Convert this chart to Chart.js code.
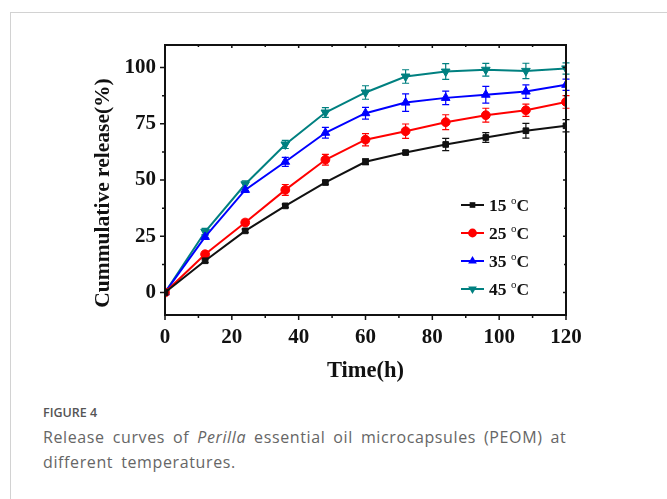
<!DOCTYPE html>
<html><head><meta charset="utf-8">
<script src="https://cdn.jsdelivr.net/npm/chart.js@4.4.1/dist/chart.umd.min.js"></script>
<style>
html,body{margin:0;padding:0;background:#fff;width:667px;height:499px;overflow:hidden;position:relative;}
#card{position:absolute;left:10px;top:12px;width:700px;height:520px;border-left:1.5px solid #d2d2d2;border-top:1.5px solid #d2d2d2;}
#wrap{position:absolute;left:0;top:0;width:667px;height:400px;}
.cap{position:absolute;left:43px;font-family:"Open Sans",sans-serif;color:#666;white-space:nowrap;}
</style></head><body>
<div id="card"></div>
<div id="wrap"><canvas id="c" width="667" height="400"></canvas></div>
<div class="cap" style="top:404px;font-size:12.5px;font-weight:600;color:#555;">FIGURE 4</div>
<div class="cap" style="top:425px;font-size:16px;line-height:25px;letter-spacing:0.62px;word-spacing:3.2px;">Release curves of <i>Perilla</i> essential oil microcapsules (PEOM) at<br>different temperatures.</div>
<script>
const timeH = [0, 12, 24, 36, 48, 60, 72, 84, 96, 108, 120];
const temps = [15, 25, 35, 45];
const rel15 = [0, 14.1, 27.4, 38.5, 48.9, 58.1, 62.2, 65.8, 68.9, 71.9, 74.1];
const rel25 = [0, 17.0, 31.1, 45.6, 59.0, 67.9, 71.7, 75.7, 78.8, 81.0, 84.7];
const rel35 = [0, 24.7, 45.6, 58.1, 71.0, 79.7, 84.4, 86.5, 87.9, 89.3, 92.3];
const rel45 = [0, 27.0, 48.1, 65.8, 80.0, 88.9, 96.0, 98.2, 99.0, 98.5, 99.6];
const err15 = [0, 0.8, 0.8, 0.8, 1.0, 1.3, 0.8, 2.7, 2.2, 3.3, 2.7];
const err25 = [0, 1.0, 1.2, 2.4, 2.4, 2.7, 3.2, 3.3, 3.1, 2.7, 2.8];
const err35 = [0, 1.0, 1.0, 2.0, 2.4, 2.6, 3.9, 3.0, 3.7, 3.0, 2.5];
const err45 = [0, 1.5, 1.5, 1.8, 2.2, 3.0, 3.0, 3.5, 2.8, 3.4, 2.5];
const xTicks = [0, 20, 40, 60, 80, 100, 120];
const yTicks = [0, 25, 50, 75, 100];
const xMinor = [10, 30, 50, 70, 90, 110];
const yMinor = [12.5, 37.5, 62.5, 87.5];
const yTitle = 'Cummulative release(%)';
const xTitle = 'Time(h)';

const colors = ['#111111', '#ff0000', '#0000ff', '#008080'];
const styles = ['rect', 'circle', 'triangle', 'triangle'];
const rots = [0, 0, 0, 180];
const radii = [4, 4.4, 5, 5];
const series = [rel15, rel25, rel35, rel45];
const errs = [err15, err25, err35, err45];

const FONT = '"Liberation Serif","Times New Roman",serif';

const datasets = series.map((s, k) => ({
  label: temps[k] + ' oC',
  data: s.map((v, i) => ({x: timeH[i], y: v})),
  errs: errs[k],
  borderColor: colors[k],
  backgroundColor: colors[k],
  pointStyle: styles[k],
  pointRotation: rots[k],
  pointRadius: radii[k],
  pointBorderWidth: 1,
  borderWidth: 2,
  tension: 0
}));

const errorBars = {
  id: 'errorBars',
  beforeDatasetsDraw(chart) {
    const {ctx, scales: {x, y}} = chart;
    ctx.save();
    chart.data.datasets.forEach(ds => {
      ctx.strokeStyle = ds.borderColor;
      ctx.lineWidth = 1.2;
      ds.data.forEach((p, i) => {
        const e = ds.errs[i];
        if (!e) return;
        const px = x.getPixelForValue(p.x);
        const t = y.getPixelForValue(p.y + e);
        const b = y.getPixelForValue(p.y - e);
        ctx.beginPath();
        ctx.moveTo(px, t); ctx.lineTo(px, b);
        ctx.moveTo(px - 3.5, t); ctx.lineTo(px + 3.5, t);
        ctx.moveTo(px - 3.5, b); ctx.lineTo(px + 3.5, b);
        ctx.stroke();
      });
    });
    ctx.restore();
  }
};

function drawMarker(ctx, style, rot, r, cx, cy) {
  ctx.beginPath();
  if (style === 'rect') {
    const h = r / Math.SQRT2;
    ctx.rect(cx - h, cy - h, 2 * h, 2 * h);
  } else if (style === 'circle') {
    ctx.arc(cx, cy, r, 0, Math.PI * 2);
  } else {
    const s = rot ? -1 : 1;
    ctx.moveTo(cx, cy - s * r);
    ctx.lineTo(cx + r * 0.87, cy + s * r * 0.5);
    ctx.lineTo(cx - r * 0.87, cy + s * r * 0.5);
    ctx.closePath();
  }
  ctx.fill();
}

const frame = {
  id: 'frame',
  afterDraw(chart) {
    const {ctx, chartArea: a, scales: {x, y}} = chart;
    ctx.save();
    ctx.strokeStyle = '#111';
    ctx.lineWidth = 2;
    ctx.strokeRect(a.left, a.top, a.right - a.left, a.bottom - a.top);
    ctx.lineWidth = 1.5;
    ctx.beginPath();
    xTicks.forEach(v => { const p = x.getPixelForValue(v);
      ctx.moveTo(p, a.bottom); ctx.lineTo(p, a.bottom + 5);
      ctx.moveTo(p, a.top); ctx.lineTo(p, a.top + 3); });
    xMinor.forEach(v => { const p = x.getPixelForValue(v);
      ctx.moveTo(p, a.bottom); ctx.lineTo(p, a.bottom + 3);
      ctx.moveTo(p, a.top); ctx.lineTo(p, a.top + 2); });
    yTicks.forEach(v => { const p = y.getPixelForValue(v);
      ctx.moveTo(a.left, p); ctx.lineTo(a.left - 5, p);
      ctx.moveTo(a.right, p); ctx.lineTo(a.right - 3, p); });
    yMinor.forEach(v => { const p = y.getPixelForValue(v);
      ctx.moveTo(a.left, p); ctx.lineTo(a.left - 3, p);
      ctx.moveTo(a.right, p); ctx.lineTo(a.right - 2, p); });
    ctx.stroke();

    // y axis title
    ctx.save();
    ctx.translate(103, 193);
    ctx.rotate(-Math.PI / 2);
    ctx.fillStyle = '#111';
    ctx.font = 'bold 21.5px ' + FONT;
    ctx.textAlign = 'center';
    ctx.textBaseline = 'middle';
    ctx.fillText(yTitle, 0, 0);
    ctx.restore();

    // legend
    const lx0 = 461, lx1 = 484, ly0 = 205, dy = 28;
    chart.data.datasets.forEach((ds, k) => {
      const yy = ly0 + k * dy;
      ctx.strokeStyle = ds.borderColor; ctx.fillStyle = ds.borderColor;
      ctx.lineWidth = 2;
      ctx.beginPath(); ctx.moveTo(lx0, yy); ctx.lineTo(lx1, yy); ctx.stroke();
      drawMarker(ctx, styles[k], rots[k], radii[k], (lx0 + lx1) / 2, yy);
      ctx.fillStyle = '#111';
      ctx.textBaseline = 'middle';
      ctx.textAlign = 'left';
      ctx.font = 'bold 17.5px ' + FONT;
      const t1 = temps[k] + ' ';
      ctx.fillText(t1, 489, yy + 1);
      let w = ctx.measureText(t1).width;
      ctx.font = '11px ' + FONT;
      ctx.fillText('o', 489 + w, yy - 4);
      w += ctx.measureText('o').width;
      ctx.font = 'bold 17.5px ' + FONT;
      ctx.fillText('C', 489 + w, yy + 1);
    });
    ctx.restore();
  }
};

new Chart(document.getElementById('c'), {
  type: 'line',
  data: {datasets},
  plugins: [errorBars, frame],
  options: {
    responsive: false,
    animation: false,
    devicePixelRatio: 1,
    layout: {padding: {left: 90, right: 101, top: 45, bottom: 15}},
    plugins: {legend: {display: false}, tooltip: {enabled: false}},
    scales: {
      x: {
        type: 'linear', min: 0, max: 120,
        afterBuildTicks: s => { s.ticks = xTicks.map(v => ({value: v})); },
        afterFit: s => { s.height = 70; },
        grid: {display: false, drawTicks: false},
        border: {display: false},
        ticks: {color: '#111', padding: 10, font: {family: FONT, size: 21, weight: 'bold'}, maxRotation: 0, autoSkip: false},
        title: {display: true, text: xTitle, color: '#111', padding: 0, font: {family: FONT, size: 22.5, weight: 'bold'}}
      },
      y: {
        type: 'linear', min: -10, max: 110,
        afterBuildTicks: s => { s.ticks = yTicks.map(v => ({value: v})); },
        afterFit: s => { s.width = 75; },
        grid: {display: false, drawTicks: false},
        border: {display: false},
        ticks: {color: '#111', padding: 9, font: {family: FONT, size: 21, weight: 'bold'}, autoSkip: false},
        title: {display: false}
      }
    }
  }
});
</script>
</body></html>
